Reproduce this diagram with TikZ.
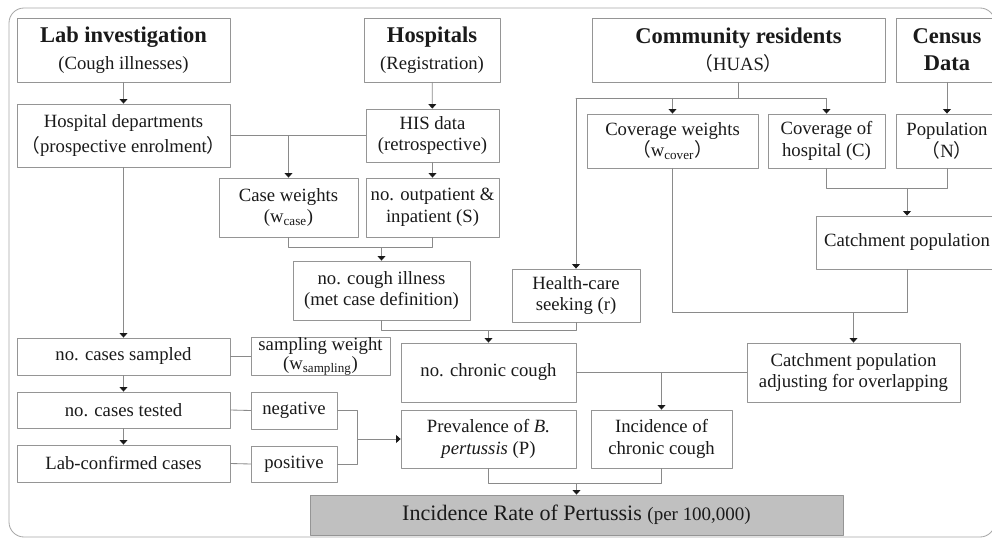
\documentclass[tikz,border=0pt]{standalone}
\usepackage{fontspec}
\setmainfont{Liberation Serif}
\newfontfamily\cjk{Noto Sans CJK SC}
\usepackage{xcolor}
\usetikzlibrary{arrows.meta,calc}
\definecolor{linegray}{HTML}{8A8A8A}
\definecolor{boxgray}{HTML}{959595}
\definecolor{framegray}{HTML}{A8A8A8}
\definecolor{rategray}{HTML}{C0C0C0}
\definecolor{ink}{HTML}{1A1A1A}
\newcommand{\ttlfont}{\fontsize{16}{19}\selectfont\bfseries}
\newcommand{\fwl}{{\cjk （}}
\newcommand{\fwr}{{\cjk ）}}
\tikzset{
    every picture/.style={line cap=round,line join=round},
    box/.style={draw=boxgray,fill=white,line width=0.6pt,inner sep=1pt,
      align=center,text=ink,font=\fontsize{13.3}{15.5}\selectfont},
    boxsize/.style 2 args={minimum width=#1*0.025cm,minimum height=#2*0.025cm},
    link/.style={draw=linegray,line width=0.6pt},
    flowarrow/.style={link,-{Triangle[length=3.2pt,width=5.6pt,color=ink]}}
}
\begin{document}
\begin{tikzpicture}[x=0.025cm,y=-0.025cm]
  \useasboundingbox (0,0) rectangle (992,538);
  \draw[framegray,line width=0.6pt,rounded corners=0.375cm] (9,8) rectangle (995,537);
  % top row
  \node[box,boxsize={213}{64}] (lab) at (123.5,50) {{\ttlfont Lab investigation}\\[4pt](Cough illnesses)};
  \node[box,boxsize={136}{64}] (hosp) at (432,50) {{\ttlfont Hospitals}\\[4pt](Registration)};
  \node[box,boxsize={293}{64}] (comm) at (738.5,50) {{\ttlfont Community residents}\\[4pt]\fwl HUAS\fwr};
  \node[box,font=\ttlfont,boxsize={102}{64}] (census) at (947,50) {Census\\Data};
  % second row
  \node[box,boxsize={213}{63}] (dept) at (123.5,135.5) {Hospital departments\\[2pt]\fwl prospective enrolment\fwr};
  \node[box,boxsize={133}{53}] (his) at (432.5,135.5) {HIS data\\(retrospective)};
  \node[box,boxsize={171}{54}] (covw) at (672.5,141) {Coverage weights\\\fwl w\textsubscript{cover}\fwr};
  \node[box,boxsize={117}{54}] (covh) at (826.5,141) {Coverage of\\hospital (C)};
  \node[box,boxsize={102}{54}] (pop) at (947,141) {Population\\\fwl N\fwr};
  % middle
  \node[box,boxsize={139}{59}] (casew) at (288.5,207.5) {Case weights\\(w\textsubscript{case})};
  \node[box,boxsize={133}{59}] (outp) at (432.5,207.5) {no. outpatient \&\\inpatient (S)};
  \node[box,boxsize={182}{53}] (catch) at (907,242.5) {Catchment population};
  \node[box,boxsize={177}{59}] (cough) at (381.5,290.5) {no. cough illness\\(met case definition)};
  \node[box,boxsize={128}{53}] (seek) at (576,295.5) {Health-care\\seeking (r)};
  \node[box,boxsize={213}{37}] (sampled) at (123.5,356.5) {no. cases sampled};
  \node[box,inner sep=0pt,boxsize={139}{37}] (sampw) at (320.5,356.5) {sampling weight\\[-2pt](w\textsubscript{sampling})};
  \node[box,boxsize={175}{59}] (chronic) at (488.5,372.5) {no. chronic cough};
  \node[box,boxsize={213}{59}] (catchadj) at (853.5,372.5) {Catchment population\\adjusting for overlapping};
  % bottom
  \node[box,boxsize={213}{36}] (tested) at (123.5,410) {no. cases tested};
  \node[box,boxsize={86}{37}] (neg) at (294,410.5) {negative};
  \node[box,boxsize={213}{37}] (confirmed) at (123.5,463.5) {Lab-confirmed cases};
  \node[box,boxsize={86}{36}] (pos) at (294,464) {positive};
  \node[box,boxsize={175}{58}] (prev) at (488.5,439) {Prevalence of \textit{B.}\\\textit{pertussis} (P)};
  \node[box,boxsize={141}{58}] (incc) at (661.5,439) {Incidence of\\chronic cough};
  \node[box,fill=rategray,font=\fontsize{15.7}{18}\selectfont,boxsize={533}{40}] (rate) at (576.5,515)
    {Incidence Rate of Pertussis {\fontsize{13.5}{16}\selectfont(per 100,000)}};
  % connectors
  \draw[flowarrow] (lab) -- (dept);
  \draw[flowarrow] (hosp) -- (his);
  \draw[link] (dept.east) -- (his.west);
  \draw[flowarrow] (casew.north |- dept.east) -- (casew.north);
  \draw[flowarrow] (his) -- (outp);
  \draw[link] (casew.south) -- ++(0,10) coordinate (wj) -| (outp.south);
  \draw[flowarrow] (wj -| cough.north) -- (cough.north);
  \draw[link] (comm.south) -- ++(0,16) coordinate (cj);
  \draw[link] (cj -| seek.north) -- (cj -| covh.north);
  \draw[flowarrow] (cj -| covw.north) -- (covw.north);
  \draw[flowarrow] (cj -| covh.north) -- (covh.north);
  \draw[flowarrow] (cj -| seek.north) -- (seek.north);
  \draw[flowarrow] (census) -- (pop);
  \draw[link] (covh.south) -- ++(0,20) coordinate (pj) -| (pop.south);
  \draw[flowarrow] (pj -| catch.north) -- (catch.north);
  \draw[link] (covw.south) -- ++(0,144) coordinate (aj) -| (catch.south);
  \draw[flowarrow] (aj -| catchadj.north) -- (catchadj.north);
  \draw[link] (cough.south) -- ++(0,10) coordinate (kj) -| (seek.south);
  \draw[flowarrow] (kj -| chronic.north) -- (chronic.north);
  \draw[link] (chronic.east) -- (catchadj.west);
  \draw[flowarrow] (chronic.east -| incc.north) -- (incc.north);
  \draw[link] (prev.south) -- ++(0,15) coordinate (rj) -| (incc.south);
  \draw[flowarrow] (rj -| rate.north) -- (rate.north);
  \draw[flowarrow] (dept) -- (sampled);
  \draw[flowarrow] (sampled) -- (tested);
  \draw[flowarrow] (tested) -- (confirmed);
  \draw[link] (sampled.east) -- (sampw.west);
  \draw[link] (tested.east) -- (neg.west);
  \draw[link] (confirmed.east) -- (pos.west);
  \draw[link] (neg.east) -- ++(20,0) coordinate (nj) |- (pos.east);
  \draw[flowarrow] (nj |- prev.west) -- (prev.west);
\end{tikzpicture}
\end{document}
